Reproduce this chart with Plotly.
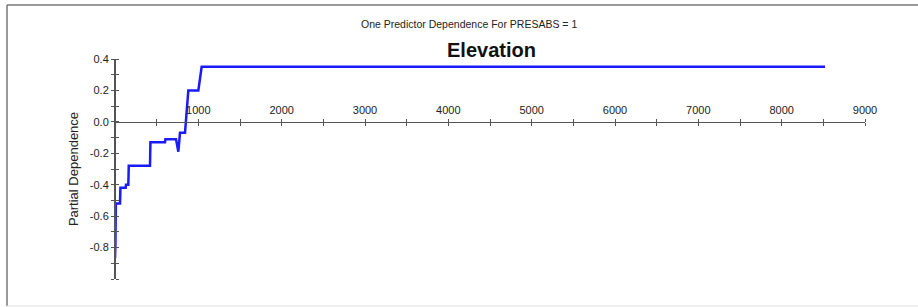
import plotly.graph_objects as go

elevation = [0, 5, 10, 60, 65, 128, 132, 160, 165, 420, 425, 600, 605, 732, 760, 780,
             840, 850, 870, 880, 920, 1000, 1040, 8520]
partial_dependence = [-0.87, -0.78, -0.52, -0.52, -0.42, -0.42, -0.40, -0.40, -0.28, -0.28,
                      -0.13, -0.13, -0.11, -0.11, -0.19, -0.07, -0.07, 0.0, 0.10, 0.20,
                      0.20, 0.20, 0.35, 0.35]

x_tickvals = [500 * i for i in range(19)]
x_ticktext = [str(v) if v % 1000 == 0 and v > 0 else "" for v in x_tickvals]
y_tickvals = [round(-1.0 + 0.1 * i, 1) for i in range(15)]
y_ticktext = [("%.1f" % v if abs(round(v * 10)) % 2 == 0 and v > -0.95 else "") for v in y_tickvals]
y_ticktext = [t.replace("-0.0", "0.0") for t in y_ticktext]

XR = [0, 9000]
YR = [-1.0, 0.4]
zero_pos = (0 - YR[0]) / (YR[1] - YR[0])

font = "Liberation Sans, Arial, sans-serif"
axis_col = "#555555"

fig = go.Figure()
fig.add_trace(go.Scatter(x=elevation, y=partial_dependence, mode="lines",
                         line=dict(color="#1a1aff", width=2.5), showlegend=False,
                         hoverinfo="x+y"))
# invisible trace on secondary axes to activate them
fig.add_trace(go.Scatter(x=[XR[0]], y=[YR[0]], xaxis="x2", yaxis="y2", mode="markers",
                         marker=dict(opacity=0), showlegend=False, hoverinfo="skip"))

common_x = dict(range=XR, showgrid=False, zeroline=False, showline=True, linecolor=axis_col,
                linewidth=1, tickmode="array", tickvals=x_tickvals, ticks="outside",
                ticklen=3, tickcolor=axis_col, tickwidth=1, anchor="free", position=zero_pos)
common_y = dict(range=YR, showgrid=False, zeroline=False, showline=True, linecolor=axis_col,
                linewidth=1, tickmode="array", tickvals=y_tickvals, ticks="outside",
                ticklen=3, tickcolor=axis_col, tickwidth=1)

fig.update_layout(
    width=918, height=307,
    margin=dict(l=115, r=53, t=59, b=28),
    paper_bgcolor="white", plot_bgcolor="white",
    font=dict(family=font, size=11, color="#222222"),
    xaxis=dict(**common_x, side="top", ticktext=x_ticktext,
               tickfont=dict(size=11, color="#222222")),
    xaxis2=dict(**common_x, side="bottom", overlaying="x", matches="x", showticklabels=False),
    yaxis=dict(**common_y, side="left", anchor="x", ticktext=y_ticktext,
               tickfont=dict(size=11, color="#222222"),
               title=dict(text="Partial Dependence", font=dict(size=13, color="#222222"),
                          standoff=8)),
    yaxis2=dict(**common_y, side="right", overlaying="y", matches="y", anchor="free",
                position=0, showticklabels=False),
    annotations=[
        dict(text="One Predictor Dependence For PRESABS = 1", xref="paper", yref="paper",
             x=(469 - 115) / 750, y=(279 - 24) / 220, xanchor="center", yanchor="middle",
             showarrow=False, font=dict(size=10.5, color="#222222", family=font)),
        dict(text="<b>Elevation</b>", xref="paper", yref="paper",
             x=(491 - 115) / 750, y=(279 - 50) / 220, xanchor="center", yanchor="middle",
             showarrow=False, font=dict(size=20, color="#111111", family=font)),
    ],
    shapes=[
        dict(type="line", xref="paper", yref="paper", x0=(7 - 115) / 750, x1=(918 - 115) / 750,
             y0=(279 - 5) / 220, y1=(279 - 5) / 220, line=dict(color="#777777", width=1.5)),
        dict(type="line", xref="paper", yref="paper", x0=(7 - 115) / 750, x1=(7 - 115) / 750,
             y0=(279 - 5) / 220, y1=(279 - 306) / 220, line=dict(color="#777777", width=1.5)),
        dict(type="line", xref="paper", yref="paper", x0=(7 - 115) / 750, x1=(918 - 115) / 750,
             y0=(279 - 306) / 220, y1=(279 - 306) / 220, line=dict(color="#dddddd", width=1)),
    ],
)

fig.write_html("out.html", config={"displayModeBar": False},
               post_script="document.body.style.margin='0px';document.body.style.overflow='hidden';")
